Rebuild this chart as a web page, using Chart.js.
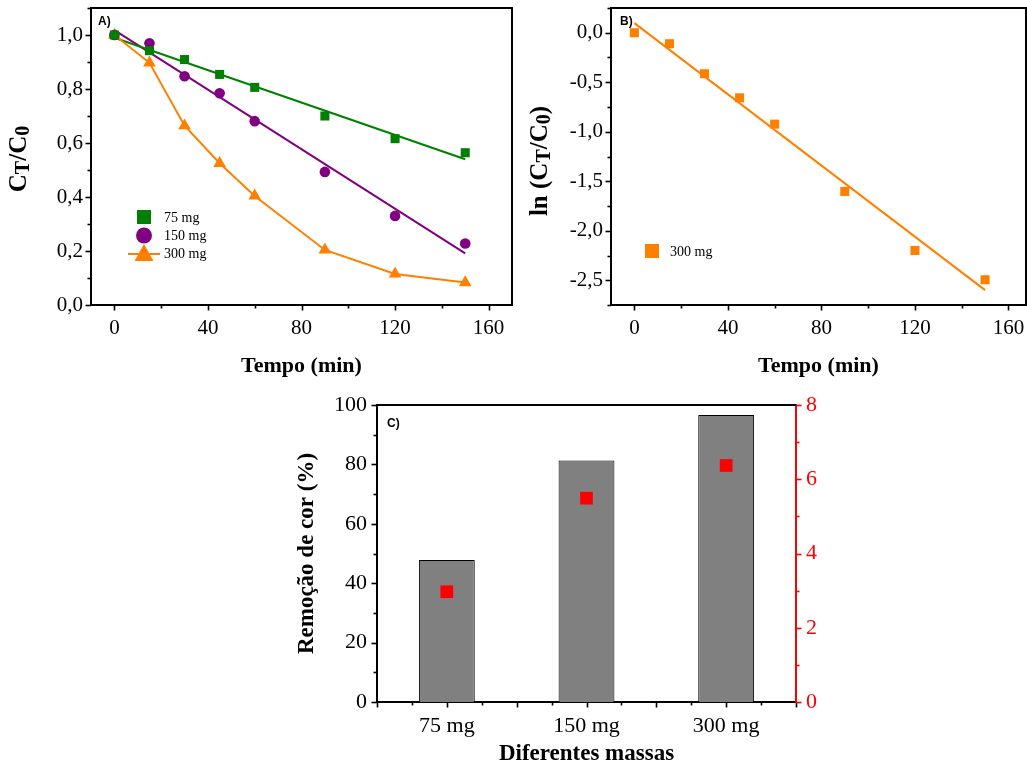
<!DOCTYPE html>
<html>
<head>
<meta charset="utf-8">
<script src="https://cdn.jsdelivr.net/npm/chart.js@4.4.1/dist/chart.umd.min.js"></script>
<style>
  html, body { margin: 0; padding: 0; background: #fff; overflow: hidden; width: 1027px; height: 763px; }
  canvas { position: absolute; }
</style>
</head>
<body>
<canvas id="chartA" width="520" height="380" style="left:0;top:0"></canvas>
<canvas id="chartB" width="520" height="380" style="left:520px;top:0"></canvas>
<canvas id="chartC" width="540" height="378" style="left:290px;top:385px"></canvas>
<script>
// ---- data ----
const tempo = [0, 15, 30, 45, 60, 90, 120, 150];
const ratio75 = [1.0, 0.942, 0.909, 0.854, 0.806, 0.70, 0.616, 0.564];
const ratio150 = [1.0, 0.969, 0.847, 0.784, 0.681, 0.493, 0.33, 0.228];
const ratio300 = [1.0, 0.897, 0.664, 0.525, 0.404, 0.204, 0.115, 0.083];
const fitTempo = [0, 150];
const fit75 = [0.99, 0.54];
const fit150 = [1.018, 0.191];
const ln300 = [0, -0.111, -0.414, -0.657, -0.923, -1.603, -2.199, -2.495];
const fitLn300 = [0.097, -2.60];
const massas = ['75 mg', '150 mg', '300 mg'];
const remocao = [47.8, 81.3, 96.6];
const eixoDireito = [2.97, 5.49, 6.37];

// tick values
const tempoTicks = [0, 40, 80, 120, 160];
const ratioTicks = [0, 0.2, 0.4, 0.6, 0.8, 1.0];
const lnTicks = [-2.5, -2.0, -1.5, -1.0, -0.5, 0.0];
const remocaoTicks = [0, 20, 40, 60, 80, 100];
const direitoTicks = [0, 2, 4, 6, 8];

const SERIF = "'Liberation Serif', 'Times New Roman', serif";
const GREEN = '#008000';
const PURPLE = '#800080';
const ORANGE = '#ff8000';
const RED = '#ff0000';

Chart.defaults.font.family = SERIF;
Chart.defaults.color = '#000';

const pts = (xs, ys) => xs.map((x, i) => ({ x, y: ys[i] }));
const comma = (v, d) => v.toFixed(d).replace('.', ',');
const fixedTicks = list => s => { s.ticks = list.map(v => ({ value: v })); };
const fitBox = (w, h) => s => {
  if (w) s.width = w;
  if (h) s.height = h;
  s.paddingTop = 0; s.paddingBottom = 0; s.paddingLeft = 0; s.paddingRight = 0;
};

// outward major/minor tick marks, origin style
const tickMarks = {
  id: 'tickMarks',
  afterDraw(chart, args, opts) {
    const ctx = chart.ctx;
    ctx.save();
    (opts.axes || []).forEach(ax => {
      const scale = chart.scales[ax.id];
      ctx.strokeStyle = ax.color || '#000';
      ctx.lineWidth = 1.6;
      const n = Math.round((ax.to - ax.from) / ax.minor);
      for (let i = 0; i <= n; i++) {
        const v = ax.from + i * ax.minor;
        const r = v / ax.major;
        const len = Math.abs(r - Math.round(r)) < 1e-6 ? 5.5 : 3.5;
        const p = Math.round(scale.getPixelForValue(v)) + 0.5;
        ctx.beginPath();
        if (scale.isHorizontal()) {
          ctx.moveTo(p, scale.top);
          ctx.lineTo(p, scale.top + len);
        } else if (scale.position === 'left') {
          ctx.moveTo(scale.right, p);
          ctx.lineTo(scale.right - len, p);
        } else {
          ctx.moveTo(scale.left, p);
          ctx.lineTo(scale.left + len, p);
        }
        ctx.stroke();
      }
    });
    ctx.restore();
  }
};

// frame (top/right border), panel letter, legend, and subscripted y title
const decor = {
  id: 'decor',
  afterDraw(chart, args, opts) {
    const ctx = chart.ctx;
    const a = chart.chartArea;
    ctx.save();
    ctx.strokeStyle = '#000';
    ctx.lineWidth = 2;
    ctx.beginPath();
    ctx.moveTo(a.left, a.top);
    ctx.lineTo(a.right, a.top);
    if (opts.rightBorder) ctx.lineTo(a.right, a.bottom);
    ctx.stroke();

    if (opts.panel) {
      ctx.fillStyle = '#000';
      ctx.font = "bold 12px 'Liberation Sans', Arial, sans-serif";
      ctx.textBaseline = 'top';
      ctx.textAlign = 'left';
      ctx.fillText(opts.panel.text, a.left + opts.panel.dx, a.top + opts.panel.dy);
    }

    (opts.legend || []).forEach(it => {
      ctx.fillStyle = it.color;
      ctx.strokeStyle = it.color;
      if (it.line) {
        ctx.lineWidth = 2;
        ctx.beginPath();
        ctx.moveTo(it.x - 16, it.y + 1);
        ctx.lineTo(it.x + 16, it.y + 1);
        ctx.stroke();
      }
      ctx.beginPath();
      if (it.style === 'rect') {
        ctx.rect(it.x - 7, it.y - 7, 14, 14);
      } else if (it.style === 'circle') {
        ctx.arc(it.x, it.y, 8, 0, Math.PI * 2);
      } else {
        ctx.moveTo(it.x, it.y - 9);
        ctx.lineTo(it.x + 9.5, it.y + 8);
        ctx.lineTo(it.x - 9.5, it.y + 8);
        ctx.closePath();
      }
      ctx.fill();
      ctx.fillStyle = '#000';
      ctx.font = '14px ' + SERIF;
      ctx.textBaseline = 'middle';
      ctx.textAlign = 'left';
      ctx.fillText(it.text, it.tx, it.y + 1);
    });

    if (opts.yTitle) {
      const t = opts.yTitle;
      const big = 'bold 25px ' + SERIF;
      const small = 'bold 20px ' + SERIF;
      let total = 0;
      t.parts.forEach(p => { ctx.font = p.sub ? small : big; total += ctx.measureText(p.t).width; });
      ctx.translate(t.x, t.y);
      ctx.rotate(-Math.PI / 2);
      ctx.fillStyle = '#000';
      ctx.textBaseline = 'middle';
      ctx.textAlign = 'left';
      let cx = -total / 2;
      t.parts.forEach(p => {
        ctx.font = p.sub ? small : big;
        ctx.fillText(p.t, cx, p.sub ? 4 : 0);
        cx += ctx.measureText(p.t).width;
      });
    }
    ctx.restore();
  }
};

const tickFont = { family: SERIF, size: 21 };
const titleFont = { family: SERIF, size: 22, weight: 'bold' };
const noGrid = { display: false, drawTicks: false, tickLength: 0 };

function tempoAxis(max) {
  return {
    type: 'linear', min: -10, max: max,
    ticks: { font: tickFont, color: '#000', padding: 11 },
    afterBuildTicks: fixedTicks(tempoTicks),
    grid: noGrid,
    border: { color: '#000', width: 2 },
    title: { display: true, text: 'Tempo (min)', font: titleFont, color: '#000', padding: { top: 0, bottom: 0 } },
    afterFit: fitBox(0, 75)
  };
}

// ---- A) ----
new Chart(document.getElementById('chartA'), {
  type: 'line',
  data: {
    datasets: [
      { data: pts(tempo, ratio75), showLine: false, pointStyle: 'rect', pointRadius: 6.4,
        backgroundColor: GREEN, borderColor: GREEN, pointBorderWidth: 0 },
      { data: pts(tempo, ratio150), showLine: false, pointStyle: 'circle', pointRadius: 5.3,
        backgroundColor: PURPLE, borderColor: PURPLE, pointBorderWidth: 0 },
      { data: pts(tempo, ratio300), pointStyle: 'triangle', pointRadius: 7.3, tension: 0,
        backgroundColor: ORANGE, borderColor: ORANGE, borderWidth: 2, pointBorderWidth: 0 },
      { data: pts(fitTempo, fit75), pointRadius: 0, borderColor: GREEN, borderWidth: 2 },
      { data: pts(fitTempo, fit150), pointRadius: 0, borderColor: PURPLE, borderWidth: 2 }
    ]
  },
  options: {
    responsive: false, animation: false, devicePixelRatio: 1,
    layout: { padding: { top: 8, right: 8, left: 0, bottom: 0 } },
    scales: {
      x: tempoAxis(170),
      y: {
        type: 'linear', min: 0, max: 1.1,
        ticks: { font: tickFont, color: '#000', padding: 8, callback: v => comma(v, 1) },
        afterBuildTicks: fixedTicks(ratioTicks),
        grid: noGrid,
        border: { color: '#000', width: 2 },
        afterFit: fitBox(91, 0)
      }
    },
    plugins: {
      legend: { display: false },
      tooltip: { enabled: false },
      tickMarks: { axes: [
        { id: 'x', from: 0, to: 160, minor: 20, major: 40 },
        { id: 'y', from: 0, to: 1.1, minor: 0.1, major: 0.2 }
      ] },
      decor: {
        rightBorder: true,
        panel: { text: 'A)', dx: 7, dy: 8 },
        legend: [
          { style: 'rect', color: GREEN, x: 144, y: 217, tx: 164, text: '75 mg' },
          { style: 'circle', color: PURPLE, x: 144, y: 235.5, tx: 164, text: '150 mg' },
          { style: 'triangle', color: ORANGE, line: true, x: 144, y: 253, tx: 164, text: '300 mg' }
        ],
        yTitle: { x: 20, y: 159, parts: [{ t: 'C' }, { t: 'T', sub: true }, { t: '/C' }, { t: '0', sub: true }] }
      }
    }
  },
  plugins: [tickMarks, decor]
});

// ---- B) ----
new Chart(document.getElementById('chartB'), {
  type: 'line',
  data: {
    datasets: [
      { data: pts(tempo, ln300), showLine: false, pointStyle: 'rect', pointRadius: 6.4,
        backgroundColor: ORANGE, borderColor: ORANGE, pointBorderWidth: 0 },
      { data: pts(fitTempo, fitLn300), pointRadius: 0, borderColor: ORANGE, borderWidth: 2 }
    ]
  },
  options: {
    responsive: false, animation: false, devicePixelRatio: 1,
    layout: { padding: { top: 8, right: 14, left: 0, bottom: 0 } },
    scales: {
      x: tempoAxis(167.5),
      y: {
        type: 'linear', min: -2.75, max: 0.25,
        ticks: { font: tickFont, color: '#000', padding: 8, callback: v => comma(v, 1) },
        afterBuildTicks: fixedTicks(lnTicks),
        grid: noGrid,
        border: { color: '#000', width: 2 },
        afterFit: fitBox(91, 0)
      }
    },
    plugins: {
      legend: { display: false },
      tooltip: { enabled: false },
      tickMarks: { axes: [
        { id: 'x', from: 0, to: 160, minor: 20, major: 40 },
        { id: 'y', from: -2.75, to: 0.25, minor: 0.25, major: 0.5 }
      ] },
      decor: {
        rightBorder: true,
        panel: { text: 'B)', dx: 9, dy: 8 },
        legend: [
          { style: 'rect', color: ORANGE, x: 132, y: 251, tx: 150, text: '300 mg' }
        ],
        yTitle: { x: 21, y: 161, parts: [{ t: 'ln (C' }, { t: 'T', sub: true }, { t: '/C' }, { t: '0', sub: true }, { t: ')' }] }
      }
    }
  },
  plugins: [tickMarks, decor]
});

// ---- C) ----
new Chart(document.getElementById('chartC'), {
  type: 'bar',
  data: {
    labels: massas,
    datasets: [
      { type: 'line', data: eixoDireito, yAxisID: 'y1', showLine: false, order: 0,
        pointStyle: 'rect', pointRadius: 9, backgroundColor: RED, borderColor: RED, pointBorderWidth: 0 },
      { type: 'bar', data: remocao, yAxisID: 'y', order: 1,
        backgroundColor: '#808080', borderColor: '#000', borderWidth: 1,
        categoryPercentage: 1, barPercentage: 0.4 }
    ]
  },
  options: {
    responsive: false, animation: false, devicePixelRatio: 1,
    layout: { padding: { top: 20, right: 0, left: 0, bottom: 0 } },
    scales: {
      x: {
        type: 'category', offset: true,
        ticks: { font: { family: SERIF, size: 22 }, color: '#000', padding: 11 },
        grid: noGrid,
        border: { color: '#000', width: 2 },
        title: { display: true, text: 'Diferentes massas', font: { family: SERIF, size: 23, weight: 'bold' },
          color: '#000', padding: { top: 0, bottom: -5 } },
        afterFit: fitBox(0, 61)
      },
      y: {
        type: 'linear', position: 'left', min: 0, max: 100,
        ticks: { font: { family: SERIF, size: 22 }, color: '#000', padding: 10 },
        afterBuildTicks: fixedTicks(remocaoTicks),
        grid: noGrid,
        border: { color: '#000', width: 2 },
        title: { display: true, text: 'Remoção de cor (%)', font: { family: SERIF, size: 23, weight: 'bold' },
          color: '#000', padding: { top: 3, bottom: 0 } },
        afterFit: fitBox(87, 0)
      },
      y1: {
        type: 'linear', position: 'right', min: 0, max: 8,
        ticks: { font: { family: SERIF, size: 22 }, color: RED, padding: 10 },
        afterBuildTicks: fixedTicks(direitoTicks),
        grid: noGrid,
        border: { color: RED, width: 2 },
        afterFit: fitBox(34, 0)
      }
    },
    plugins: {
      legend: { display: false },
      tooltip: { enabled: false },
      tickMarks: { axes: [
        { id: 'x', from: -0.5, to: 2.5, minor: 0.25, major: 0.5 },
        { id: 'y', from: 0, to: 100, minor: 10, major: 20 },
        { id: 'y1', from: 0, to: 8, minor: 1, major: 2, color: RED }
      ] },
      decor: {
        rightBorder: false,
        panel: { text: 'C)', dx: 10, dy: 13 }
      }
    }
  },
  plugins: [tickMarks, decor]
});
</script>
</body>
</html>
